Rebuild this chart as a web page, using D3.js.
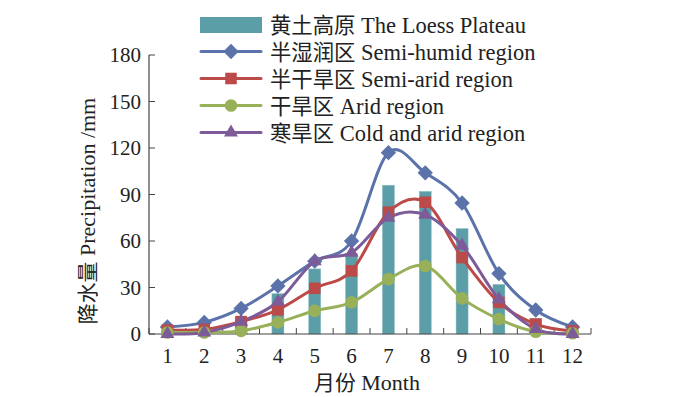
<!DOCTYPE html>
<html><head><meta charset="utf-8">
<script src="https://cdn.jsdelivr.net/npm/d3@7"></script>
<style>body{margin:0;background:#fff}svg{display:block}</style>
</head><body>
<svg id="c" width="700" height="397"></svg>
<script>
const months = ["1","2","3","4","5","6","7","8","9","10","11","12"];
const yTicks = [0,30,60,90,120,150,180];
const loess = [1.5,3,11,26,42,52,96,92,68,32,10,2];
const semiHumid = [4.5,7.5,16.5,31,47,60,117,104,84.5,39,15.5,4.5];
const semiArid = [2.5,3,8,15.6,29.5,40.7,78.6,85,49.3,20.4,6.4,2];
const arid = [1,1,2,7.5,15,20.4,35.4,43.9,23,9.6,1.5,0.5];
const coldArid = [0,1,8,20.8,47,52.5,75,77,57,22.5,3.2,0];
const legendZh = ["黄土高原","半湿润区","半干旱区","干旱区","寒旱区"];
const legendEn = ["The Loess Plateau","Semi-humid region","Semi-arid region","Arid region","Cold and arid region"];

const svg = d3.select("#c");
const serif = "'Liberation Serif','Times New Roman',serif";
const cjk = "'Noto Sans CJK SC',sans-serif";
const x = d3.scaleBand().domain(months).range([149,591]);
const y = d3.scaleLinear().domain([0,180]).range([334,55]);
const axisColor = "#444";

function bilingual(sel, zh, en, size){
  sel.append("tspan").attr("font-family",cjk).attr("font-size",size*0.95).text(zh);
  sel.append("tspan").attr("font-family",serif).attr("font-size",size).text("\u00a0"+en);
}

// bars
svg.append("g").selectAll("rect").data(loess).join("rect")
  .attr("x",(d,i)=>x(months[i])+x.bandwidth()/2-6)
  .attr("width",12)
  .attr("y",d=>y(d)).attr("height",d=>y(0)-y(d))
  .attr("fill","#5b9ea8").attr("stroke","#8cc0c8").attr("stroke-width",0.5);

// axes
const gx = svg.append("g").attr("transform",`translate(0,${y(0)})`);
gx.append("line").attr("x1",149).attr("x2",591).attr("stroke",axisColor).attr("stroke-width",1.2);
gx.selectAll(".t").data(d3.range(13)).join("line")
  .attr("x1",i=>149+i*x.step()).attr("x2",i=>149+i*x.step()).attr("y1",0).attr("y2",-6)
  .attr("stroke",axisColor).attr("stroke-width",1);
gx.selectAll("text").data(months).join("text")
  .attr("x",d=>x(d)+x.bandwidth()/2).attr("y",29).attr("text-anchor","middle")
  .attr("font-family",serif).attr("font-size",21).attr("fill","#222").text(d=>d);

const gy = svg.append("g").attr("transform","translate(149,0)");
gy.append("line").attr("y1",y(0)).attr("y2",y(180)).attr("stroke",axisColor).attr("stroke-width",1.2);
gy.selectAll("line.t").data(yTicks).join("line").attr("class","t")
  .attr("x1",0).attr("x2",6).attr("y1",d=>y(d)).attr("y2",d=>y(d)).attr("stroke",axisColor);
gy.selectAll("text").data(yTicks).join("text")
  .attr("x",-8).attr("y",d=>y(d)+7).attr("text-anchor","end")
  .attr("font-family",serif).attr("font-size",21).attr("fill","#222").text(d=>d);

const yt = svg.append("text").attr("transform","translate(95,211) rotate(-90)").attr("text-anchor","middle").attr("fill","#222");
bilingual(yt,"降水量","Precipitation /mm",22);
const xt = svg.append("text").attr("x",367).attr("y",390).attr("text-anchor","middle").attr("fill","#222");
bilingual(xt,"月份","Month",22);

// lines
const series = [
  {v:semiHumid,c:"#5b73aa",m:d3.symbolDiamond2,s:150},
  {v:semiArid,c:"#bb4a48",m:d3.symbolSquare2,s:170},
  {v:arid,c:"#98b158",m:d3.symbolCircle,s:125},
  {v:coldArid,c:"#7d5b98",m:d3.symbolTriangle2,s:140}
];
const line = d3.line().x((d,i)=>x(months[i])+x.bandwidth()/2).y(d=>y(d)).curve(d3.curveCardinal.tension(0));
series.forEach(s=>{
  svg.append("path").attr("d",line(s.v)).attr("fill","none").attr("stroke",s.c).attr("stroke-width",3);
});
series.forEach(s=>{
  svg.append("g").selectAll("path").data(s.v).join("path")
    .attr("transform",(d,i)=>`translate(${x(months[i])+x.bandwidth()/2},${y(d)})`)
    .attr("d",d3.symbol().type(s.m).size(s.s)).attr("fill",s.c);
});

// legend
const lg = svg.append("g");
const rows = [25,51.5,78.5,105.5,132.5];
lg.append("rect").attr("x",200).attr("y",rows[0]-8).attr("width",62).attr("height",16).attr("fill","#5b9ea8");
series.forEach((s,i)=>{
  const ry = rows[i+1];
  lg.append("line").attr("x1",201).attr("x2",261).attr("y1",ry).attr("y2",ry).attr("stroke",s.c).attr("stroke-width",3).attr("stroke-linecap","round");
  lg.append("path").attr("transform",`translate(231,${ry})`).attr("d",d3.symbol().type(s.m).size(s.s)).attr("fill",s.c);
});
legendZh.forEach((zh,i)=>{
  const t = lg.append("text").attr("x",270).attr("y",rows[i]+8).attr("fill","#222");
  bilingual(t, zh, legendEn[i], 22.5);
});
</script>
</body></html>
